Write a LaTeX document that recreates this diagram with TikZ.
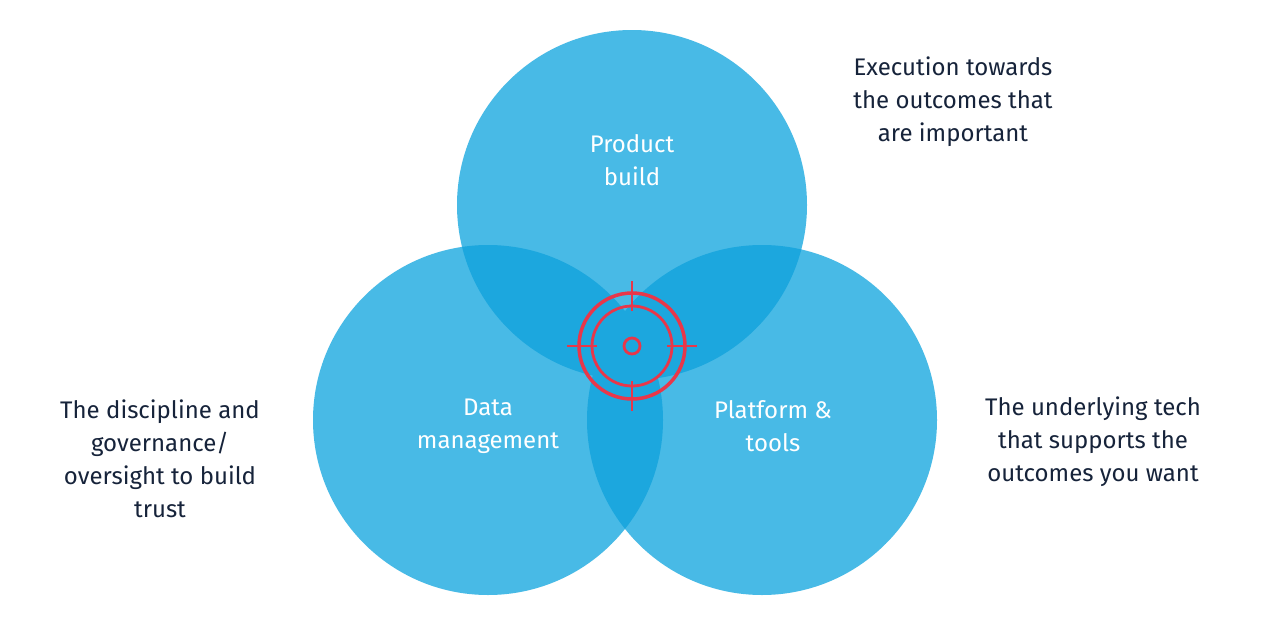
\documentclass[tikz,border=0pt]{standalone}
\usepackage{fontspec}
\setmainfont{Fira Sans}
\usetikzlibrary{calc}
\begin{document}
\begin{tikzpicture}[x=1pt,y=-1pt,
  lab/.style={text=white,font=\fontsize{24}{33}\selectfont,align=center},
  side/.style={text=navy,font=\fontsize{24}{33}\selectfont,align=center},
  tgt/.style={draw=tred,line width=3.5pt}]
\definecolor{lb}{HTML}{48BAE6}
\definecolor{db}{HTML}{1CA7DE}
\definecolor{navy}{HTML}{16233A}
\definecolor{tred}{HTML}{E8374A}
\useasboundingbox (0,0) rectangle (1280,640);
\fill[white] (0,0) rectangle (1280,640);
\def\R{175}
\coordinate (T) at (632,205);
\coordinate (L) at (488,420);
\coordinate (Rt) at (762,420);
\fill[lb] (T) circle (\R) (L) circle (\R) (Rt) circle (\R);
\begin{scope}\clip (T) circle (\R); \fill[db] (L) circle (\R) (Rt) circle (\R);\end{scope}
\begin{scope}\clip (L) circle (\R); \fill[db] (Rt) circle (\R);\end{scope}
\node[lab] (pb) at (632,160) {Product\\build};
\node[lab] (dm) at (488,426) {Data\\management};
\node[lab] (pt) at (773,426) {Platform \&\\tools};
\node[side] (s1) at (953,102) {Execution towards\\the outcomes that\\are important};
\node[side] (s2) at (160,459) {The discipline and\\governance/\\oversight to build\\trust};
\node[side] (s3) at (1093,442) {The underlying tech\\that supports the\\outcomes you want};
\coordinate (c) at (632,346);
\draw[tgt] (c) circle (53);
\draw[tgt,line width=2.8pt] (c) circle (40);
\draw[tgt,line width=2.8pt] (c) circle (8);
\foreach \a in {0,90,180,270}
  \draw[tgt,line width=2.8pt] ($(c)+(\a:35)$) -- ($(c)+(\a:65)$);
\end{tikzpicture}
\end{document}
